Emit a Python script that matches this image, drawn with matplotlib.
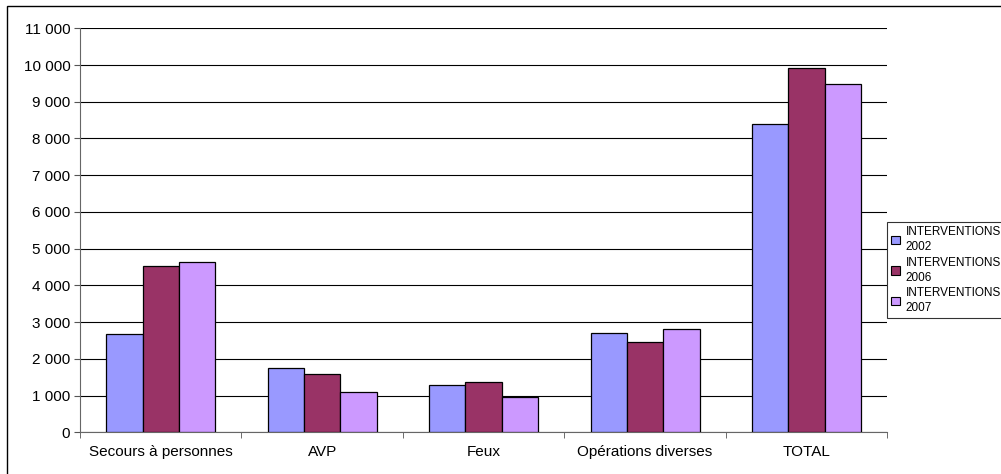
import matplotlib.pyplot as plt
import matplotlib.patches as patches
import numpy as np

plt.rcParams['font.family'] = ['Liberation Sans', 'DejaVu Sans']

# Data
categories = ['Secours à personnes', 'AVP', 'Feux', 'Opérations diverses', 'TOTAL']
series_names = ['INTERVENTIONS\n2002', 'INTERVENTIONS\n2006', 'INTERVENTIONS\n2007']
v2002 = [2670, 1740, 1290, 2700, 8390]
v2006 = [4540, 1590, 1380, 2450, 9930]
v2007 = [4630, 1100, 970, 2810, 9470]
colors = ['#9999FF', '#993366', '#CC99FF']
yticks = list(range(0, 11001, 1000))
ytick_labels = [f'{t:,}'.replace(',', ' ') for t in yticks]

W, H = 1001, 474
fig = plt.figure(figsize=(W / 100, H / 100), dpi=100)
ax = fig.add_axes([80 / W, 1 - 432.3 / H, (887.3 - 80) / W, (432.3 - 28.3) / H])

# outer chart border
fig.patches.append(patches.Rectangle((7 / W, -0.05), 1.1, 1 - 6 / H + 0.05,
                                     transform=fig.transFigure, fill=False,
                                     edgecolor='black', linewidth=1.0))

x = np.arange(len(categories))
bw = 0.225
for i, vals in enumerate([v2002, v2006, v2007]):
    ax.bar(x + (i - 1) * bw, vals, width=bw, color=colors[i], edgecolor='black',
           linewidth=0.9, label=series_names[i], zorder=3)

ax.set_xlim(-0.5, len(categories) - 0.5)
ax.set_ylim(0, 11000)
ax.set_yticks(yticks)
ax.set_yticklabels(ytick_labels, fontsize=11)
ax.yaxis.grid(True, color='black', linewidth=0.8, zorder=0)
ax.set_axisbelow(True)

ax.set_xticks(x)
ax.set_xticklabels(categories, fontsize=11)
ax.tick_params(axis='x', length=0, pad=9)
ax.set_xticks(np.arange(-0.5, len(categories)), minor=True)
ax.tick_params(axis='x', which='minor', length=4, color='#555555')
ax.tick_params(axis='y', length=4, color='#555555', pad=3)

for s in ['top', 'right']:
    ax.spines[s].set_visible(False)
ax.spines['left'].set_color('#666666')
ax.spines['bottom'].set_color('#666666')

leg = fig.legend(loc='upper left', bbox_to_anchor=(887.3 / W, 1 - 221.7 / H),
                 fontsize=8.5, frameon=True, fancybox=False, edgecolor='black',
                 handlelength=0.7, handleheight=0.7, handletextpad=0.5,
                 borderpad=0.35, labelspacing=0.3, borderaxespad=0)
leg.get_frame().set_linewidth(0.8)
for t in leg.get_texts():
    t.set_linespacing(1.35)
for h in leg.legend_handles:
    h.set_linewidth(0.8)

fig.savefig('out.png', dpi=100)
